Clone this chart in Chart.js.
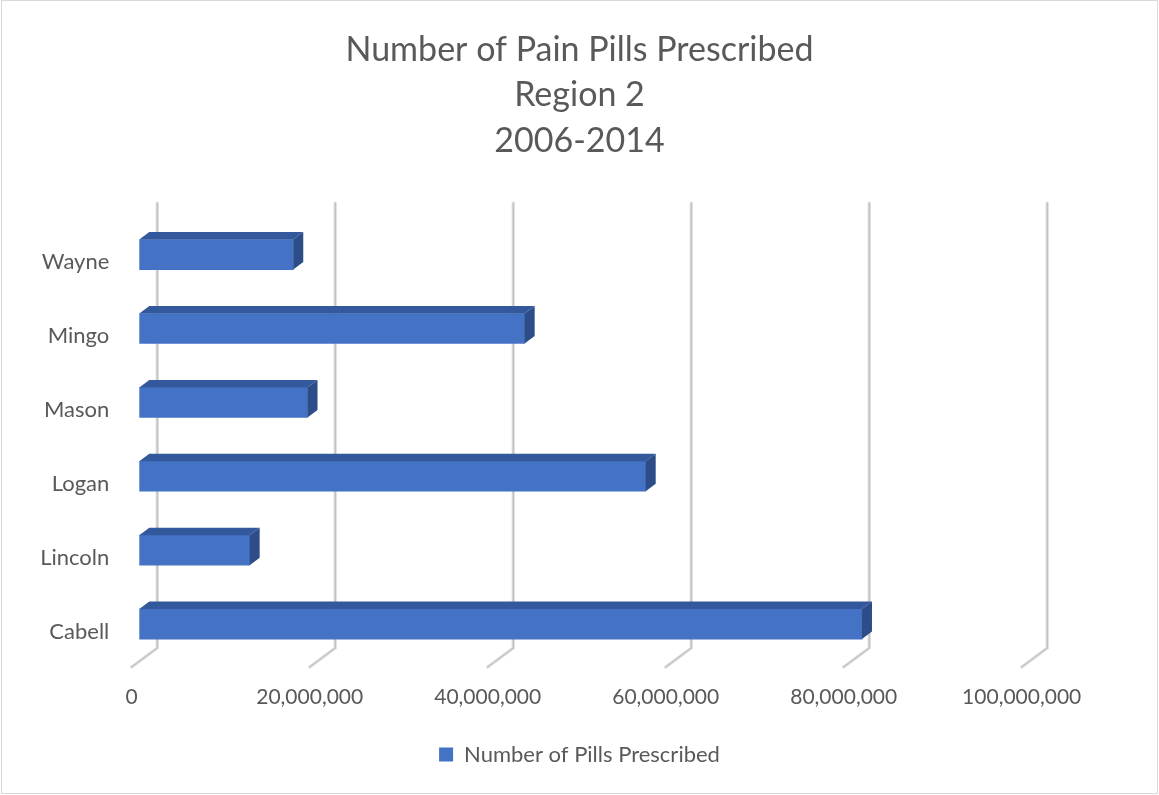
<!DOCTYPE html>
<html>
<head>
<meta charset="utf-8">
<script src="https://cdn.jsdelivr.net/npm/chart.js@4"></script>
<style>
  html, body { margin: 0; padding: 0; background: #fff; }
  #wrap { width: 1159px; height: 795px; position: relative; }
</style>
</head>
<body>
<div id="wrap"><canvas id="pillsChart"></canvas></div>
<script>
const counties = ['Wayne', 'Mingo', 'Mason', 'Logan', 'Lincoln', 'Cabell'];
const pillsPrescribed = [17300000, 43300000, 18900000, 56900000, 12400000, 81200000];
const titleLines = ['Number of Pain Pills Prescribed', 'Region 2', '2006-2014'];
const seriesName = 'Number of Pills Prescribed';
const axisMin = 0;
const axisMax = 100000000;
const axisStep = 20000000;

const textColor = '#595959';
const barFront = '#4472C4';
const barTop = '#34589C';
const barSide = '#2C4D87';

// depth of the fake 3d box, in px
const DEPTH_X = 10;
const DEPTH_Y = 7.5;

const frame = {
  id: 'frame',
  beforeDraw(chart) {
    const { ctx, width, height } = chart;
    ctx.save();
    ctx.fillStyle = '#fff';
    ctx.fillRect(0, 0, width, height);
    ctx.strokeStyle = '#d9d9d9';
    ctx.lineWidth = 1;
    ctx.strokeRect(1.5, 0.5, width - 3, height - 2);
    ctx.restore();
  },
};

// back wall + floor gridlines, drawn off the x scale ticks
const walls = {
  id: 'walls',
  beforeDatasetsDraw(chart) {
    const { ctx, chartArea } = chart;
    const xs = chart.scales.x;
    const wallTop = chartArea.top - 14.5;
    const wallBottom = chartArea.bottom - 13;
    const floorFront = chartArea.bottom + 6;
    ctx.save();
    ctx.lineCap = 'round';
    xs.ticks.forEach(t => {
      const xf = xs.getPixelForValue(t.value);
      const xb = xf + 18;
      const pass = (w, c) => {
        ctx.beginPath();
        ctx.moveTo(xb, wallTop);
        ctx.lineTo(xb, wallBottom);
        ctx.lineTo(xf - 7.6, floorFront);
        ctx.lineWidth = w;
        ctx.strokeStyle = c;
        ctx.stroke();
      };
      pass(3.4, '#e2e2e2');
      pass(1.4, '#c2c2c2');
    });
    ctx.restore();
  },
};

// top and side faces of each bar
const boxes = {
  id: 'boxes',
  afterDatasetsDraw(chart) {
    const { ctx } = chart;
    const meta = chart.getDatasetMeta(0);
    ctx.save();
    meta.data.forEach(bar => {
      const { x, y, base, height } = bar.getProps(['x', 'y', 'base', 'height'], true);
      const top = y - height / 2;
      const bottom = y + height / 2;
      ctx.fillStyle = barTop;
      ctx.beginPath();
      ctx.moveTo(base, top);
      ctx.lineTo(base + DEPTH_X, top - DEPTH_Y);
      ctx.lineTo(x + DEPTH_X, top - DEPTH_Y);
      ctx.lineTo(x, top);
      ctx.closePath();
      ctx.fill();
      ctx.fillStyle = barSide;
      ctx.beginPath();
      ctx.moveTo(x, top);
      ctx.lineTo(x + DEPTH_X, top - DEPTH_Y);
      ctx.lineTo(x + DEPTH_X, bottom - DEPTH_Y);
      ctx.lineTo(x, bottom);
      ctx.closePath();
      ctx.fill();
    });
    ctx.restore();
  },
};

const ctx = document.getElementById('pillsChart');

new Chart(ctx, {
  type: 'bar',
  data: {
    labels: counties,
    datasets: [
      {
        label: seriesName,
        data: pillsPrescribed,
        backgroundColor: barFront,
        borderWidth: 0,
        barThickness: 30,
      },
    ],
  },
  options: {
    indexAxis: 'y',
    responsive: true,
    maintainAspectRatio: false,
    animation: false,
    layout: {
      padding: { left: 0, right: 0, top: 0, bottom: 19.5 },
    },
    scales: {
      x: {
        min: axisMin,
        max: axisMax,
        grid: { display: false, drawTicks: false },
        border: { display: false },
        ticks: {
          stepSize: axisStep,
          padding: 24,
          labelOffset: -7.6,
          color: textColor,
          font: { family: 'Lato', size: 21 },
          maxRotation: 0,
          callback: v => v.toLocaleString('en-US'),
        },
        afterFit: s => { s.height = 72.5; },
      },
      y: {
        grid: { display: false, drawTicks: false },
        border: { display: false },
        ticks: {
          padding: 30,
          labelOffset: 7.5,
          color: textColor,
          font: { family: 'Lato', size: 22 },
        },
        afterFit: s => { s.width = 139.3; },
      },
      // empty right-hand axis, only reserves the space right of the plot
      yRight: {
        type: 'category',
        position: 'right',
        grid: { display: false, drawTicks: false },
        border: { display: false },
        ticks: { display: false },
        afterFit: s => { s.width = 129.7; },
      },
    },
    plugins: {
      title: {
        display: true,
        text: titleLines,
        color: textColor,
        font: { family: 'Lato', size: 34, weight: 'normal', lineHeight: 1.34 },
        padding: { top: 27, bottom: 54 },
      },
      legend: {
        position: 'bottom',
        labels: {
          color: textColor,
          font: { family: 'Lato', size: 22 },
          boxWidth: 14,
          boxHeight: 14,
          padding: 10,
        },
      },
      tooltip: { enabled: false },
    },
  },
  plugins: [frame, walls, boxes],
});
</script>
</body>
</html>
